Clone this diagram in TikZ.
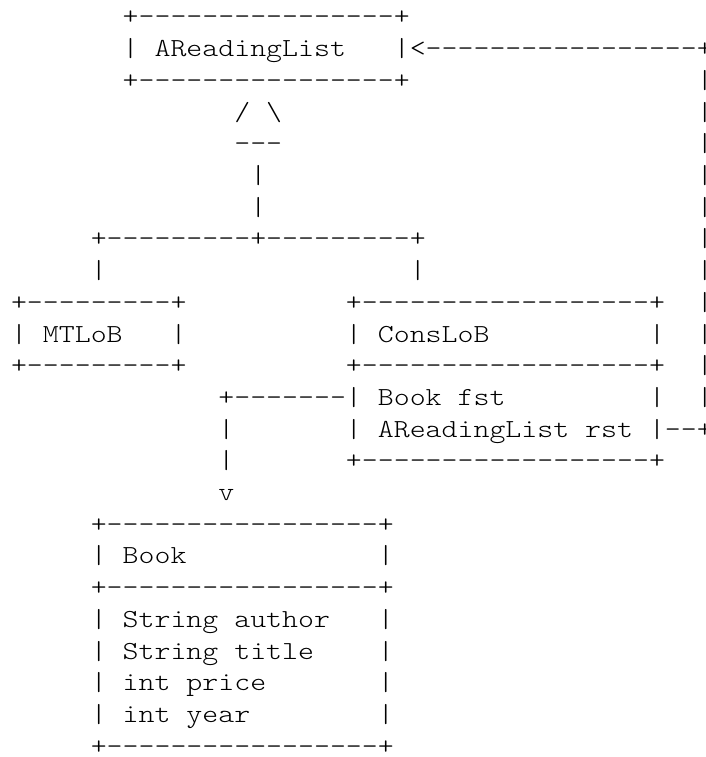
\documentclass[tikz,border=0pt]{standalone}
\usepackage{fontspec}
\newfontfamily\asciifont{lmmonolt10-regular.otf}[FakeStretch=1.1685]
\newcommand{\AsciiAt}[4]{\node[asciitext] (#1) at ({11+15.95*#2},{25+31.7*#3}) {#4};}
\newcommand{\EdgeAt}[3]{\node[edgetext] (#1) at ({11+15.95*43+7.975},{25+31.7*#2}) {\makebox[0pt][c]{#3}};}
\tikzset{
  asciitext/.style={anchor=base west, inner sep=0pt, outer sep=0pt, text=black,
    font=\asciifont\fontsize{26}{32}\selectfont},
  edgetext/.style={asciitext, anchor=base}}
\begin{document}
\begin{tikzpicture}[x=1pt,y=-1pt]
\useasboundingbox[fill=white] (0,0) rectangle (706,757);
% AReadingList box
\AsciiAt{arTop}{7}{0}{+----------------+}
\AsciiAt{arL}{7}{1}{|}
\AsciiAt{arName}{9}{1}{AReadingList}
\AsciiAt{arR}{24}{1}{|}
\AsciiAt{arBot}{7}{2}{+----------------+}
% back arrow from ConsLoB.rst
\AsciiAt{backArrow}{25}{1}{<-----------------}
\EdgeAt{backCorner}{1}{+}
\EdgeAt{back2}{2}{|}
\EdgeAt{back3}{3}{|}
\EdgeAt{back4}{4}{|}
\EdgeAt{back5}{5}{|}
\EdgeAt{back6}{6}{|}
\EdgeAt{back7}{7}{|}
\EdgeAt{back8}{8}{|}
\EdgeAt{back9}{9}{|}
\EdgeAt{back10}{10}{|}
\EdgeAt{back11}{11}{|}
\EdgeAt{back12}{12}{|}
\EdgeAt{rstCorner}{13}{+}
% inheritance triangle
\AsciiAt{triL}{14}{3}{/}
\AsciiAt{triR}{16}{3}{\textbackslash}
\AsciiAt{triBase}{14}{4}{---}
\AsciiAt{stem5}{15}{5}{|}
\AsciiAt{stem6}{15}{6}{|}
\AsciiAt{branch}{5}{7}{+---------+---------+}
\AsciiAt{branchL}{5}{8}{|}
\AsciiAt{branchR}{25}{8}{|}
% MTLoB box
\AsciiAt{mtTop}{0}{9}{+---------+}
\AsciiAt{mtL}{0}{10}{|}
\AsciiAt{mtName}{2}{10}{MTLoB}
\AsciiAt{mtR}{10}{10}{|}
\AsciiAt{mtBot}{0}{11}{+---------+}
% ConsLoB box
\AsciiAt{csTop}{21}{9}{+------------------+}
\AsciiAt{csL}{21}{10}{|}
\AsciiAt{csName}{23}{10}{ConsLoB}
\AsciiAt{csR}{40}{10}{|}
\AsciiAt{csSep}{21}{11}{+------------------+}
\AsciiAt{fstLink}{13}{12}{+-------|}
\AsciiAt{fstA}{23}{12}{Book}
\AsciiAt{fstB}{28}{12}{fst}
\AsciiAt{csR12}{40}{12}{|}
\AsciiAt{link13}{13}{13}{|}
\AsciiAt{csL13}{21}{13}{|}
\AsciiAt{rstA}{23}{13}{AReadingList}
\AsciiAt{rstB}{36}{13}{rst}
\AsciiAt{rstLink}{40}{13}{|--}
\AsciiAt{link14}{13}{14}{|}
\AsciiAt{csBot}{21}{14}{+------------------+}
\AsciiAt{arrowV}{13}{15}{v}
% Book box
\AsciiAt{bkTop}{5}{16}{+-----------------+}
\AsciiAt{bkL17}{5}{17}{|}
\AsciiAt{bkName}{7}{17}{Book}
\AsciiAt{bkR17}{23}{17}{|}
\AsciiAt{bkSep}{5}{18}{+-----------------+}
\AsciiAt{bkL19}{5}{19}{|}
\AsciiAt{f1a}{7}{19}{String}
\AsciiAt{f1b}{14}{19}{author}
\AsciiAt{bkR19}{23}{19}{|}
\AsciiAt{bkL20}{5}{20}{|}
\AsciiAt{f2a}{7}{20}{String}
\AsciiAt{f2b}{14}{20}{title}
\AsciiAt{bkR20}{23}{20}{|}
\AsciiAt{bkL21}{5}{21}{|}
\AsciiAt{f3a}{7}{21}{int}
\AsciiAt{f3b}{11}{21}{price}
\AsciiAt{bkR21}{23}{21}{|}
\AsciiAt{bkL22}{5}{22}{|}
\AsciiAt{f4a}{7}{22}{int}
\AsciiAt{f4b}{11}{22}{year}
\AsciiAt{bkR22}{23}{22}{|}
\AsciiAt{bkBot}{5}{23}{+-----------------+}
\end{tikzpicture}
\end{document}
